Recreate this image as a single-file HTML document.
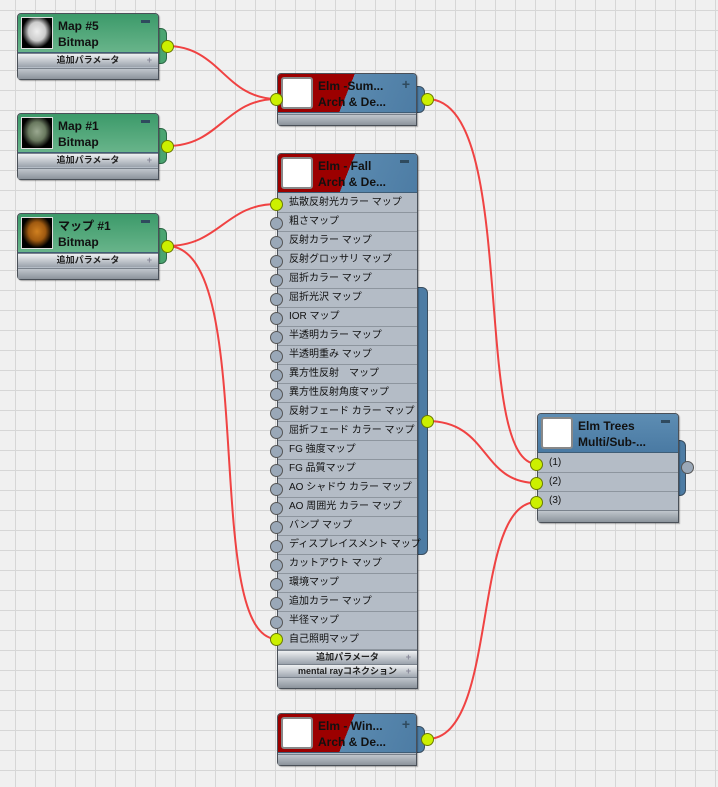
<!DOCTYPE html>
<html><head><meta charset="utf-8"><style>
*{margin:0;padding:0;box-sizing:border-box}
body{width:718px;height:787px;overflow:hidden;position:relative;background-color:#f0f0f0;
background-image:linear-gradient(#d6d6d6 1px,transparent 1px),linear-gradient(90deg,#d6d6d6 1px,transparent 1px);
background-size:20px 20px;background-position:0 10px,15px 0;font-family:"Liberation Sans","Noto Sans CJK JP",sans-serif}
.n{position:absolute;border:1px solid #4a5058;border-radius:4px 4px 0 4px;background:#b4bcc6;box-shadow:1px 1px 1px rgba(0,0,0,.3)}
.h{position:absolute;left:0;right:0;top:0;height:39px;border-radius:3px 3px 0 0;border-bottom:1px solid #3f5d76}
.g{background:linear-gradient(#3c9a6a,#68b48a)}
.b{background:linear-gradient(112deg,#9c0000 0,#9c0000 50%,#5a8ab0 50%,#4d7ca4 100%)}
.bb{background:linear-gradient(#5d8db3,#4a7aa3)}
.th{position:absolute;left:3px;top:3px;width:32px;height:32px;border:1px solid #ddd;background:#000}
.th.w{background:#fff;border:2px solid #888;border-radius:3px}
.t{position:absolute;left:40px;top:4px;font-size:12px;font-weight:bold;line-height:16px;color:#111;white-space:nowrap}
.mn{position:absolute;right:8px;top:6px;width:9px;height:3px;background:#2f4a5e}
.pl{position:absolute;right:6px;top:2px;font-size:14px;font-weight:bold;color:#2f4a5e}
.bar{position:absolute;left:0;right:0;height:14px;background:linear-gradient(#eef0f2,#9aa2ac);border-top:1px solid #7a828c;font-size:9px;font-weight:bold;text-align:center;line-height:13px;color:#222}
.bar i{position:absolute;right:6px;top:0;font-style:normal;color:#889}
.ft{position:absolute;left:0;right:0;bottom:0;height:11px;background:linear-gradient(#c0c6cc,#8c949c);border-top:1px solid #7a828c}
.tab{position:absolute;border-radius:0 6px 6px 0;border:1px solid #3a4e60}
.s{position:absolute;width:13px;height:13px;border-radius:50%;border:1px solid #555;background:#9aa8b8}
.y{background:#ccf000;border-color:#6a7a00}
.r{position:absolute;left:0;right:0;height:19px;border-bottom:1px solid #8d959e;font-size:10px;line-height:18px;padding-left:11px;color:#111;white-space:nowrap}
</style></head><body>
<svg width="718" height="787" style="position:absolute;left:0;top:0">
<g fill="none" stroke="#f03030" stroke-width="2" opacity=".9">
<path d="M167 46 C220 46 225 99 277 99"/>
<path d="M167 146 C220 146 225 99 277 99"/>
<path d="M167 246 C220 246 225 204 277 204"/>
<path d="M167 246 C260 246 200 639 277 639"/>
<path d="M427 99 C520 99 470 464 537 464"/>
<path d="M427 421 C490 421 480 483 537 483"/>
<path d="M427 739 C500 739 470 502 537 502"/>
</g></svg>

<div class="tab" style="left:155px;top:28px;width:12px;height:36px;background:#4aa470;border-color:#2e6a48"></div>
<div class="n" style="left:17px;top:13px;width:142px;height:67px"><div class="h g"><div class="th" style="background:radial-gradient(ellipse at 50% 45%,#eee 0,#ccc 40%,#000 70%)"></div><div class="t">Map #5<br>Bitmap</div><div class="mn"></div></div>
<div class="bar" style="top:39px">追加パラメータ<i>+</i></div><div class="ft"></div></div>
<div class="s y" style="left:161px;top:40px"></div>

<div class="tab" style="left:155px;top:128px;width:12px;height:36px;background:#4aa470;border-color:#2e6a48"></div>
<div class="n" style="left:17px;top:113px;width:142px;height:67px"><div class="h g"><div class="th" style="background:radial-gradient(ellipse at 50% 45%,#9aa890 0,#6a7a60 40%,#000 70%)"></div><div class="t">Map #1<br>Bitmap</div><div class="mn"></div></div>
<div class="bar" style="top:39px">追加パラメータ<i>+</i></div><div class="ft"></div></div>
<div class="s y" style="left:161px;top:140px"></div>

<div class="tab" style="left:155px;top:228px;width:12px;height:36px;background:#4aa470;border-color:#2e6a48"></div>
<div class="n" style="left:17px;top:213px;width:142px;height:67px"><div class="h g"><div class="th" style="background:radial-gradient(ellipse at 50% 45%,#d08020 0,#a05a10 40%,#000 70%)"></div><div class="t">マップ #1<br>Bitmap</div><div class="mn"></div></div>
<div class="bar" style="top:39px">追加パラメータ<i>+</i></div><div class="ft"></div></div>
<div class="s y" style="left:161px;top:240px"></div>

<div class="tab" style="left:412px;top:86px;width:13px;height:27px;background:#4d7ca4"></div>
<div class="n" style="left:277px;top:73px;width:140px;height:53px"><div class="h b"><div class="th w"></div><div class="t">Elm -Sum...<br>Arch &amp; De...</div><div class="pl">+</div></div><div class="ft"></div></div>
<div class="s y" style="left:270px;top:93px"></div>
<div class="s y" style="left:421px;top:93px"></div>

<div class="tab" style="left:412px;top:287px;width:16px;height:268px;background:#4d7ca4"></div>
<div class="n" style="left:277px;top:153px;width:141px;height:536px"><div class="h b"><div class="th w"></div><div class="t">Elm - Fall<br>Arch &amp; De...</div><div class="mn"></div></div>
<div style="position:absolute;left:0;right:0;top:40px">
<div class="r" style="top:0">拡散反射光カラー マップ</div>
<div class="r" style="top:19px">粗さマップ</div>
<div class="r" style="top:38px">反射カラー マップ</div>
<div class="r" style="top:57px">反射グロッサリ マップ</div>
<div class="r" style="top:76px">屈折カラー マップ</div>
<div class="r" style="top:95px">屈折光沢 マップ</div>
<div class="r" style="top:114px">IOR マップ</div>
<div class="r" style="top:133px">半透明カラー マップ</div>
<div class="r" style="top:152px">半透明重み マップ</div>
<div class="r" style="top:171px">異方性反射　マップ</div>
<div class="r" style="top:190px">異方性反射角度マップ</div>
<div class="r" style="top:209px">反射フェード カラー マップ</div>
<div class="r" style="top:228px">屈折フェード カラー マップ</div>
<div class="r" style="top:247px">FG 強度マップ</div>
<div class="r" style="top:266px">FG 品質マップ</div>
<div class="r" style="top:285px">AO シャドウ カラー マップ</div>
<div class="r" style="top:304px">AO 周囲光 カラー マップ</div>
<div class="r" style="top:323px">バンプ マップ</div>
<div class="r" style="top:342px">ディスプレイスメント マップ</div>
<div class="r" style="top:361px">カットアウト マップ</div>
<div class="r" style="top:380px">環境マップ</div>
<div class="r" style="top:399px">追加カラー マップ</div>
<div class="r" style="top:418px">半径マップ</div>
<div class="r" style="top:437px">自己照明マップ</div>
</div>
<div class="bar" style="top:496px">追加パラメータ<i>+</i></div>
<div class="bar" style="top:510px">mental rayコネクション<i>+</i></div>
<div class="ft"></div></div>
<div class="s y" style="left:270px;top:198px"></div>
<div class="s" style="left:270px;top:217px"></div><div class="s" style="left:270px;top:236px"></div><div class="s" style="left:270px;top:255px"></div><div class="s" style="left:270px;top:274px"></div><div class="s" style="left:270px;top:293px"></div><div class="s" style="left:270px;top:312px"></div><div class="s" style="left:270px;top:331px"></div><div class="s" style="left:270px;top:350px"></div><div class="s" style="left:270px;top:369px"></div><div class="s" style="left:270px;top:388px"></div><div class="s" style="left:270px;top:407px"></div><div class="s" style="left:270px;top:426px"></div><div class="s" style="left:270px;top:445px"></div><div class="s" style="left:270px;top:464px"></div><div class="s" style="left:270px;top:483px"></div><div class="s" style="left:270px;top:502px"></div><div class="s" style="left:270px;top:521px"></div><div class="s" style="left:270px;top:540px"></div><div class="s" style="left:270px;top:559px"></div><div class="s" style="left:270px;top:578px"></div><div class="s" style="left:270px;top:597px"></div><div class="s" style="left:270px;top:616px"></div>
<div class="s y" style="left:270px;top:633px"></div>
<div class="s y" style="left:421px;top:415px"></div>

<div class="tab" style="left:412px;top:726px;width:13px;height:27px;background:#4d7ca4"></div>
<div class="n" style="left:277px;top:713px;width:140px;height:53px"><div class="h b"><div class="th w"></div><div class="t">Elm - Win...<br>Arch &amp; De...</div><div class="pl">+</div></div><div class="ft"></div></div>
<div class="s y" style="left:421px;top:733px"></div>

<div class="tab" style="left:672px;top:440px;width:14px;height:56px;background:#4d7ca4"></div>
<div class="n" style="left:537px;top:413px;width:142px;height:110px"><div class="h bb"><div class="th w"></div><div class="t">Elm Trees<br>Multi/Sub-...</div><div class="mn"></div></div>
<div style="position:absolute;left:0;right:0;top:40px">
<div class="r" style="top:0">(1)</div><div class="r" style="top:19px">(2)</div><div class="r" style="top:38px">(3)</div></div>
<div class="ft" style="height:12px"></div></div>
<div class="s y" style="left:530px;top:458px"></div>
<div class="s y" style="left:530px;top:477px"></div>
<div class="s y" style="left:530px;top:496px"></div>
<div class="s" style="left:681px;top:461px"></div>
</body></html>
